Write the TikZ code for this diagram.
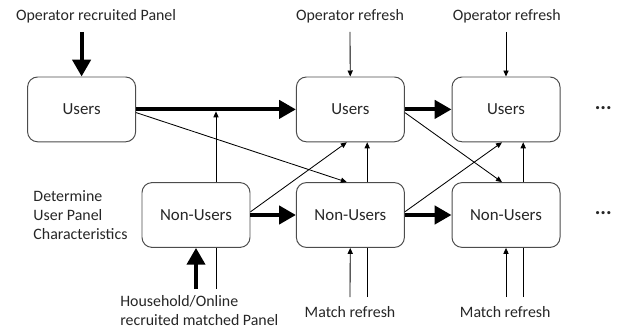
\documentclass[tikz,border=0pt]{standalone}
\usepackage{fontspec}
\setmainfont{Carlito}
\usetikzlibrary{arrows.meta}

\begin{document}
\begin{tikzpicture}[
    box/.style={draw=black!70, line width=0.7pt, rounded corners=0.25cm, minimum width=2.7cm, minimum height=1.62cm, text=black!85, font=\fontsize{12}{14}\selectfont},
    caption/.style={inner sep=0pt, text=black!85, font=\fontsize{11.3}{13.5}\selectfont},
    bigarrow/.style={line width=0.1cm, -{Triangle[length=0.42cm, width=0.45cm]}},
    smallarrow/.style={line width=0.6pt, -{Triangle[length=0.15cm, width=0.13cm]}},
    thinline/.style={line width=0.6pt}
]
    \useasboundingbox (0,0) rectangle (15.45,8.225);

    \node[box] (u1) at (2.04, 5.49) {Users};
    \node[box] (u2) at (8.76, 5.49) {Users};
    \node[box] (u3) at (12.65, 5.49) {Users};
    \node[box] (n1) at (4.90, 2.85) {Non-Users};
    \node[box] (n2) at (8.76, 2.85) {Non-Users};
    \node[box] (n3) at (12.65, 2.85) {Non-Users};
    \node[caption, font=\fontsize{15}{15}\bfseries] (more1) at (15.08, 5.53) {...};
    \node[caption, font=\fontsize{15}{15}\bfseries] (more2) at (15.08, 2.89) {...};

    \node[caption] (oprec) at (2.4, 7.825) {Operator recruited Panel};
    \node[caption] (opref1) at (8.75, 7.825) {Operator refresh};
    \node[caption] (opref2) at (12.67, 7.825) {Operator refresh};
    \node[caption, anchor=west, align=left] (det) at (0.83, 2.85) {Determine\\User Panel\\Characteristics};
    \node[caption, anchor=west, align=left] (hh) at (3.0, 0.45) {Household/Online\\recruited matched Panel};
    \node[caption] (match1) at (8.75, 0.42) {Match refresh};
    \node[caption] (match2) at (12.63, 0.42) {Match refresh};

    \coordinate (t1) at (2.04, 7.425);
    \coordinate (t2) at (8.75, 7.425);
    \coordinate (t3) at (12.65, 7.425);
    \coordinate (b1) at (4.90, 1.0);
    \coordinate (b1x) at (5.40, 1.0);
    \coordinate (b2) at (8.75, 0.8);
    \coordinate (b2x) at (9.18, 0.8);
    \coordinate (b3) at (12.65, 0.8);
    \coordinate (b3x) at (13.08, 0.8);

    % main flow
    \draw[bigarrow] (t1) -- (u1);
    \draw[bigarrow] (b1) -- (n1);
    \draw[bigarrow] (u1) -- (u2);
    \draw[bigarrow] (u2) -- (u3);
    \draw[bigarrow] (n1) -- (n2);
    \draw[bigarrow] (n2) -- (n3);

    % refreshes
    \draw[smallarrow] (t2) -- (u2);
    \draw[smallarrow] (t3) -- (u3);
    \draw[smallarrow] (b2) -- (n2);
    \draw[smallarrow] (b3) -- (n3);
    \draw[thinline] (b1x) -- (b1x |- n1.south);
    \draw[thinline] (b2x) -- (b2x |- n2.south);
    \draw[thinline] (b3x) -- (b3x |- n3.south);

    % switching between users and non-users
    \draw[smallarrow, shorten >=0.05cm] ([xshift=0.5cm]n1.north) -- ([xshift=0.5cm]n1.north |- u1.east);
    \draw[smallarrow] ([xshift=0.42cm]n2.north) -- ([xshift=0.42cm]u2.south);
    \draw[smallarrow] ([xshift=0.43cm]n3.north) -- ([xshift=0.43cm]u3.south);
    \draw[smallarrow] ([yshift=-0.08cm]u1.east) -- ([xshift=-0.09cm]n2.north);
    \draw[smallarrow] ([yshift=0.08cm]n1.east) -- ([xshift=-0.09cm]u2.south);
    \draw[smallarrow] ([yshift=-0.08cm]u2.east) -- ([xshift=-0.1cm]n3.north);
    \draw[smallarrow] ([yshift=0.08cm]n2.east) -- ([xshift=-0.1cm]u3.south);
\end{tikzpicture}
\end{document}
